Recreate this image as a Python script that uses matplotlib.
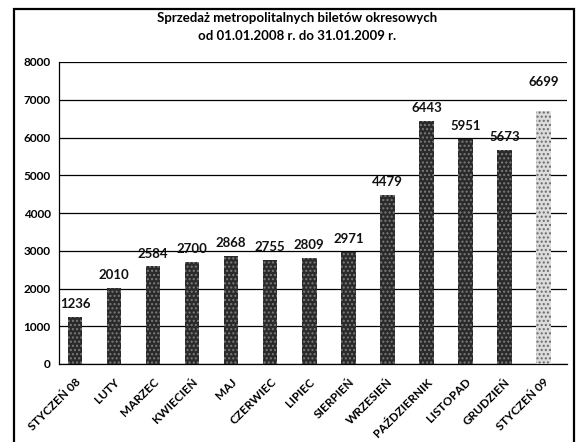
import matplotlib
matplotlib.use("Agg")
import matplotlib.pyplot as plt
from matplotlib.patches import Rectangle

plt.rcParams['font.family'] = ['Lato', 'DejaVu Sans']

months = ["STYCZEŃ 08", "LUTY", "MARZEC", "KWIECIEŃ", "MAJ", "CZERWIEC",
          "LIPIEC", "SIERPIEŃ", "WRZESIEŃ", "PAŹDZIERNIK", "LISTOPAD",
          "GRUDZIEŃ", "STYCZEŃ 09"]
tickets = [1236, 2010, 2584, 2700, 2868, 2755, 2809, 2971, 4479, 6443,
           5951, 5673, 6699]
y_ticks = [0, 1000, 2000, 3000, 4000, 5000, 6000, 7000, 8000]

W, H = 583, 442
fig = plt.figure(figsize=(W / 100, H / 100), dpi=100)
fig.patch.set_facecolor("white")

# outer frame of the chart
fig.patches.append(Rectangle((14 / W, -0.05), (574 - 14) / W, 1.05 - 9 / H,
                             transform=fig.transFigure, fill=False,
                             edgecolor="black", linewidth=1.6))

ax = fig.add_axes([59 / W, 1 - 364 / H, (567 - 59) / W, (364 - 62) / H])
x = list(range(len(months)))

colors = ["#2a2a2a"] * (len(months) - 1) + ["#dcdcdc"]
hatch_cols = ["#7c7c7c"] * (len(months) - 1) + ["#6a6a6a"]
bars = ax.bar(x, tickets, width=0.37, color=colors, zorder=3, linewidth=0)
for b, hc in zip(bars, hatch_cols):
    b.set_hatch("....")
    b.set_edgecolor(hc)
    b.set_linewidth(0)

for i, (xi, v) in enumerate(zip(x, tickets)):
    pad = 17 if i == len(months) - 1 else 5
    ax.annotate(f"{v}", (xi, v), xytext=(0, pad), textcoords="offset points",
                ha="center", va="bottom", fontsize=9.5, fontweight="bold",
                color="#111111", zorder=4)

ax.set_xlim(-0.41, 12.6)
ax.set_ylim(0, 8000)
ax.set_yticks(y_ticks)
ax.set_yticklabels([str(t) for t in y_ticks], fontsize=8.5, fontweight="bold")
ax.yaxis.grid(True, color="black", linewidth=0.9, zorder=0)
ax.set_axisbelow(True)
ax.tick_params(axis="y", length=0, pad=6)
ax.tick_params(axis="x", length=0, pad=9)
ax.set_xticks(x)
ax.set_xticklabels(months, rotation=45, ha="right", va="top",
                   rotation_mode="anchor", fontsize=8.5, fontweight="bold")
for s in ("top", "right"):
    ax.spines[s].set_visible(False)
ax.spines["left"].set_linewidth(0.9)
ax.spines["bottom"].set_linewidth(0.9)

fig.text(297 / W, 1 - 18 / H, "Sprzedaż metropolitalnych biletów okresowych",
         ha="center", va="center", fontsize=9.5, fontweight="bold")
fig.text(297 / W, 1 - 36 / H, "od 01.01.2008 r. do 31.01.2009 r.",
         ha="center", va="center", fontsize=9.5, fontweight="bold")

fig.savefig("out.png", dpi=100)
